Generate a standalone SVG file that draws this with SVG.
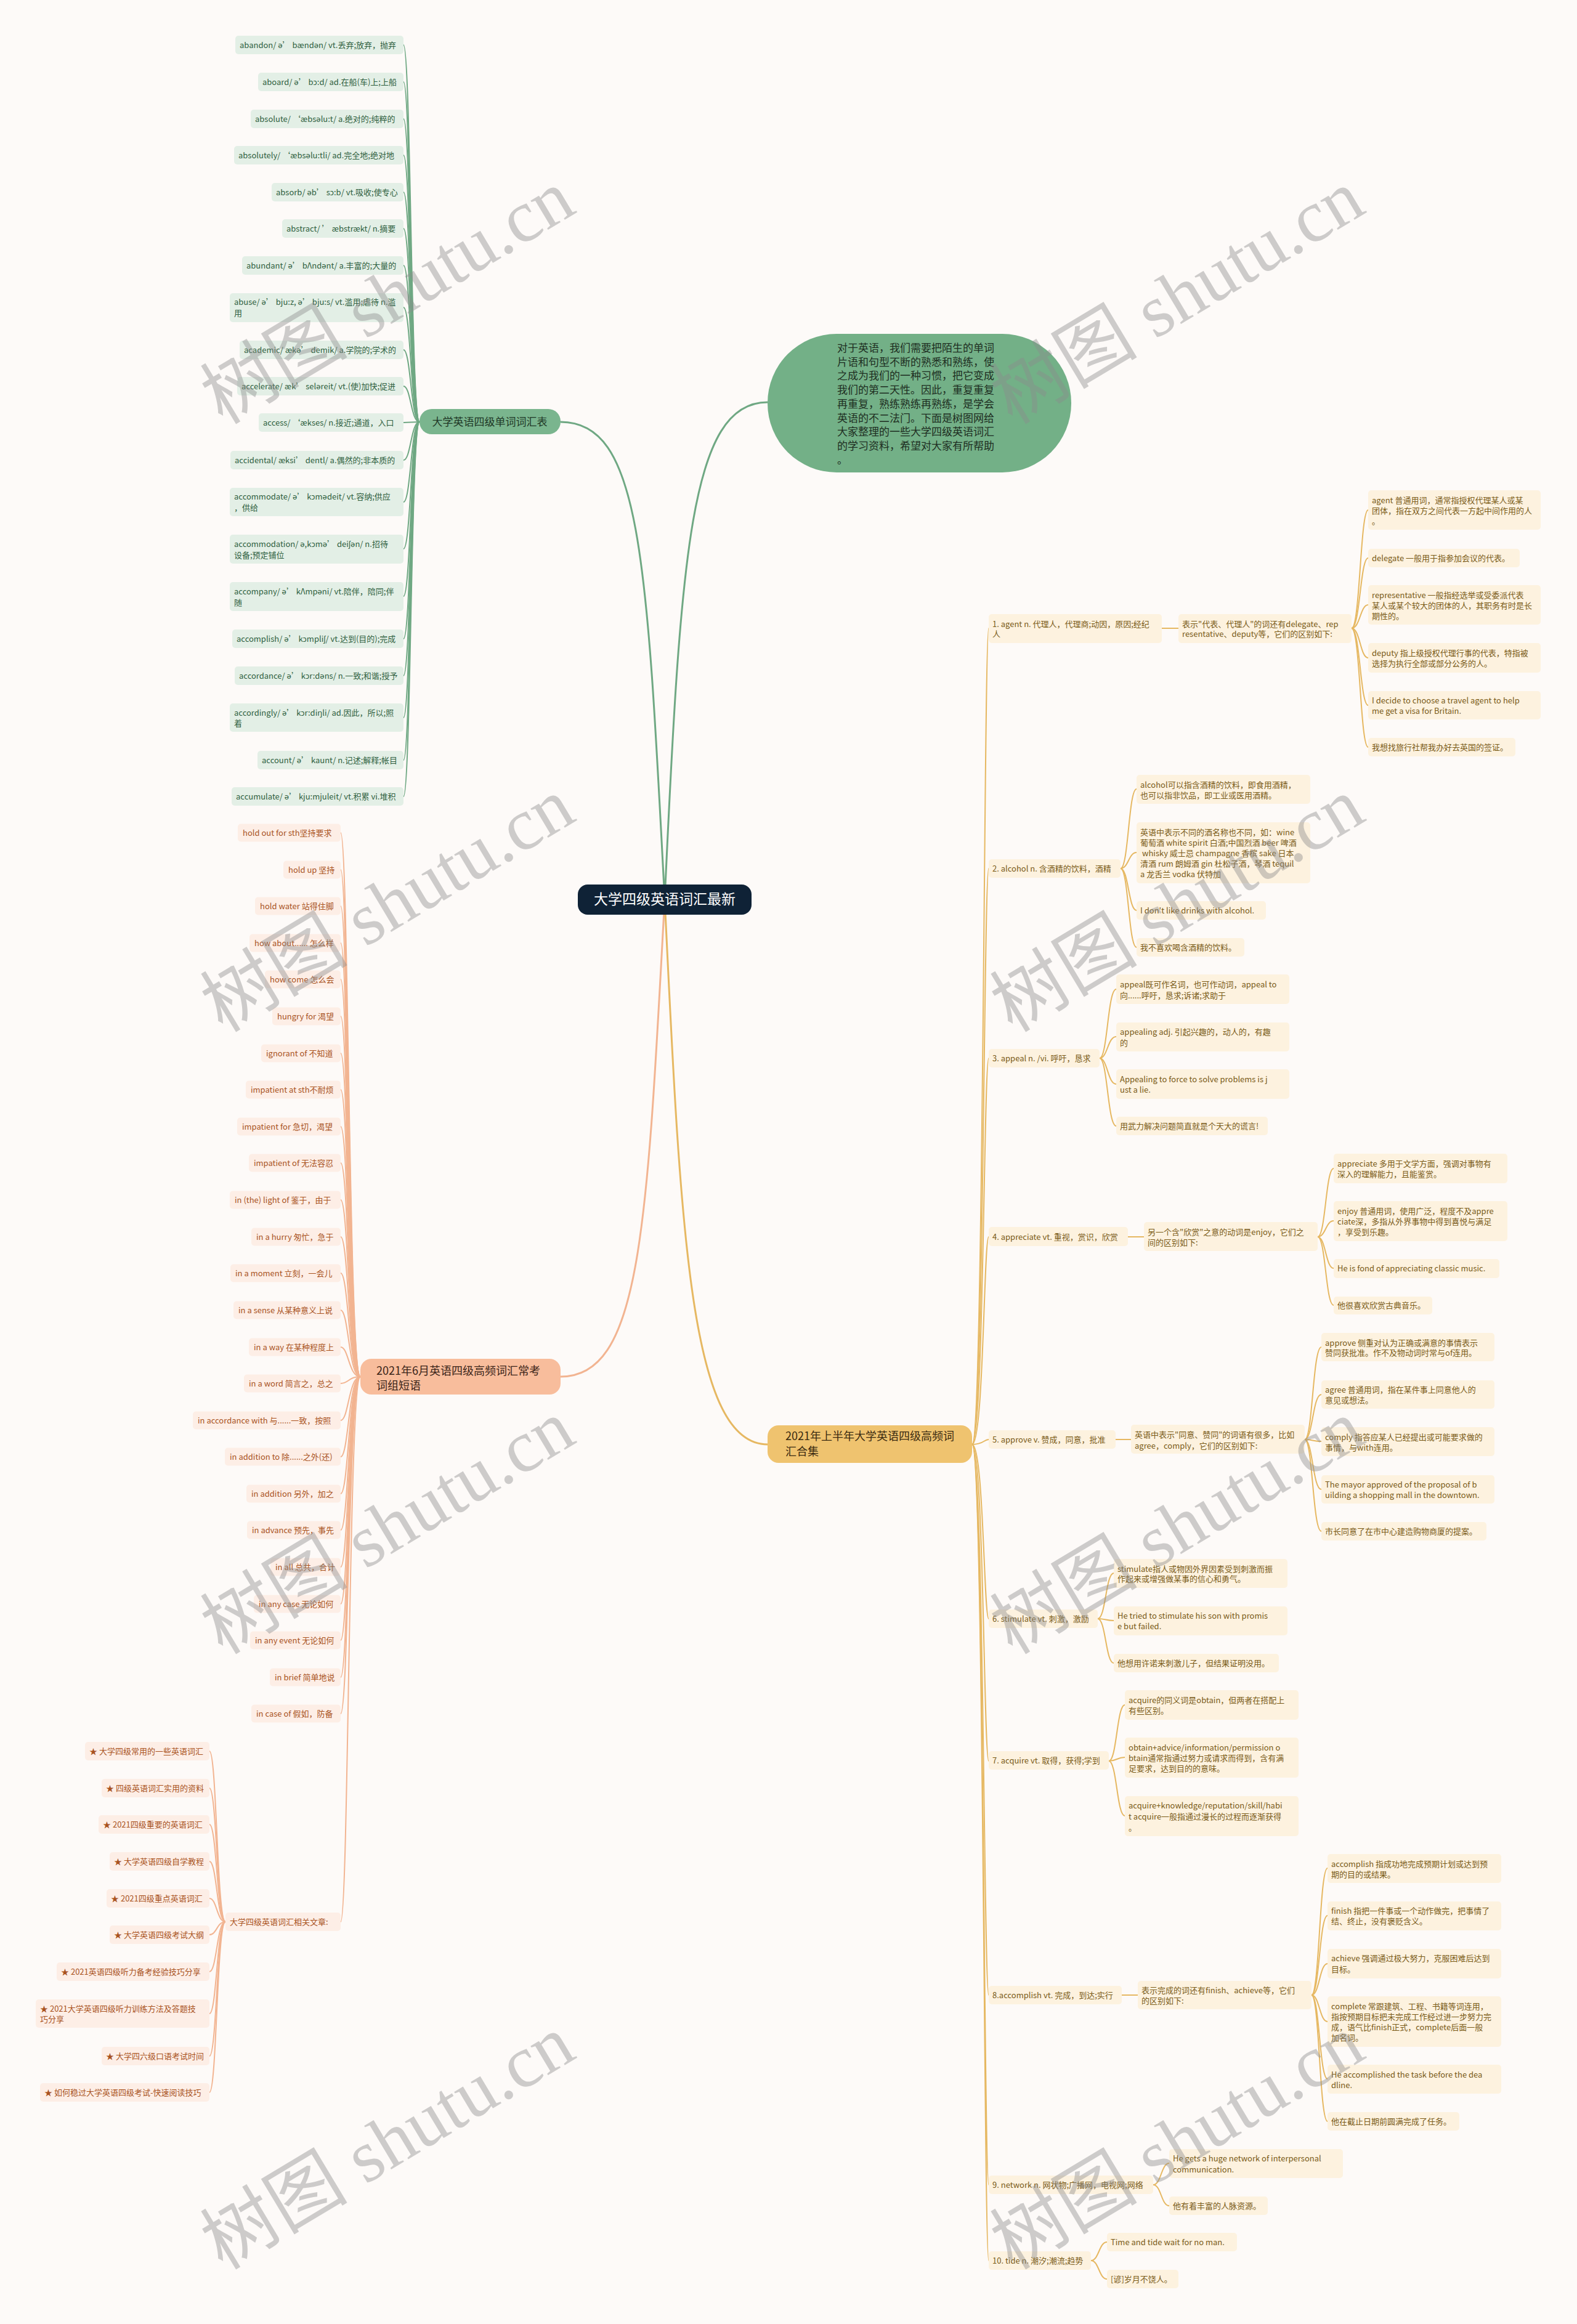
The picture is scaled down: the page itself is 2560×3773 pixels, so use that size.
<svg xmlns="http://www.w3.org/2000/svg" width="2560" height="3773" viewBox="0 0 2560 3773">
<style>
text{font-family:"Noto Sans CJK SC","Noto Sans",sans-serif;font-size:13px}
.tg{fill:#2f5f40}.ts{fill:#a9531e}.td{fill:#7a5b17}
.rg{fill:#e3efe6}.rs{fill:#fdeee6}.rd{fill:#fdf2df}
.c{fill:none;stroke-width:2}
.lg{stroke:#6fa883}.ls{stroke:#f2b491}.ld{stroke:#e6b862}
.m{stroke-width:3}
.wm{font-family:"Liberation Serif","Noto Sans CJK SC",serif;font-size:120px;fill:#8c8c8c;opacity:0.42}
</style>
<rect width="2560" height="3773" fill="#fdfaf8"/>
<g id="connectors">
<path class="c lg m" d="M1079 1460 C1105 900 1120 653 1246 653"/>
<path class="c lg m" d="M1079 1460 C1050 900 1040 685 910 685"/>
<path class="c ls m" d="M1079 1460 C1050 2000 1040 2235 910 2235"/>
<path class="c ld m" d="M1079 1460 C1105 2000 1120 2345 1246 2345"/>
<g class="c lg">
<path d="M681 685 C667 685 667 73 655 73"/><path d="M681 685 C667 685 667 133 655 133"/><path d="M681 685 C667 685 667 193 655 193"/><path d="M681 685 C667 685 667 252 655 252"/><path d="M681 685 C667 685 667 312 655 312"/><path d="M681 685 C667 685 667 371 655 371"/><path d="M681 685 C667 685 667 431 655 431"/><path d="M681 685 C667 685 667 499 655 499"/><path d="M681 685 C667 685 667 568 655 568"/><path d="M681 685 C667 685 667 627 655 627"/><path d="M681 685 C667 685 667 686 655 686"/><path d="M681 685 C667 685 667 747 655 747"/><path d="M681 685 C667 685 667 815 655 815"/><path d="M681 685 C667 685 667 891 655 891"/><path d="M681 685 C667 685 667 968 655 968"/><path d="M681 685 C667 685 667 1037 655 1037"/><path d="M681 685 C667 685 667 1097 655 1097"/><path d="M681 685 C667 685 667 1165 655 1165"/><path d="M681 685 C667 685 667 1234 655 1234"/><path d="M681 685 C667 685 667 1293 655 1293"/>
</g>
<g class="c ls">
<path d="M585 2235 C566 2235 566 1352 553 1352"/><path d="M585 2235 C566 2235 566 1412 553 1412"/><path d="M585 2235 C566 2235 566 1471 553 1471"/><path d="M585 2235 C566 2235 566 1531 553 1531"/><path d="M585 2235 C566 2235 566 1590 553 1590"/><path d="M585 2235 C566 2235 566 1650 553 1650"/><path d="M585 2235 C566 2235 566 1710 553 1710"/><path d="M585 2235 C566 2235 566 1769 553 1769"/><path d="M585 2235 C566 2235 566 1829 553 1829"/><path d="M585 2235 C566 2235 566 1888 553 1888"/><path d="M585 2235 C566 2235 566 1948 553 1948"/><path d="M585 2235 C566 2235 566 2008 553 2008"/><path d="M585 2235 C566 2235 566 2067 553 2067"/><path d="M585 2235 C566 2235 566 2127 553 2127"/><path d="M585 2235 C566 2235 566 2187 553 2187"/><path d="M585 2235 C566 2235 566 2246 553 2246"/><path d="M585 2235 C566 2235 566 2306 553 2306"/><path d="M585 2235 C566 2235 566 2365 553 2365"/><path d="M585 2235 C566 2235 566 2425 553 2425"/><path d="M585 2235 C566 2235 566 2484 553 2484"/><path d="M585 2235 C566 2235 566 2544 553 2544"/><path d="M585 2235 C566 2235 566 2604 553 2604"/><path d="M585 2235 C566 2235 566 2663 553 2663"/><path d="M585 2235 C566 2235 566 2723 553 2723"/><path d="M585 2235 C566 2235 566 2782 553 2782"/><path d="M585 2235 C566 2235 566 3120 553 3120"/>
<path d="M366 3120 C352 3120 352 2843 340 2843"/><path d="M366 3120 C352 3120 352 2903 340 2903"/><path d="M366 3120 C352 3120 352 2962 340 2962"/><path d="M366 3120 C352 3120 352 3022 340 3022"/><path d="M366 3120 C352 3120 352 3082 340 3082"/><path d="M366 3120 C352 3120 352 3141 340 3141"/><path d="M366 3120 C352 3120 352 3201 340 3201"/><path d="M366 3120 C352 3120 352 3269 340 3269"/><path d="M366 3120 C352 3120 352 3338 340 3338"/><path d="M366 3120 C352 3120 352 3397 340 3397"/>
</g>
<g class="c ld">
<path d="M1578 2345 C1597 2345 1597 1020 1605 1020"/><path d="M1578 2345 C1597 2345 1597 1410 1605 1410"/><path d="M1578 2345 C1597 2345 1597 1718 1605 1718"/><path d="M1578 2345 C1597 2345 1597 2008 1605 2008"/><path d="M1578 2345 C1597 2345 1597 2337 1605 2337"/><path d="M1578 2345 C1597 2345 1597 2628 1605 2628"/><path d="M1578 2345 C1597 2345 1597 2859 1605 2859"/><path d="M1578 2345 C1597 2345 1597 3239 1605 3239"/><path d="M1578 2345 C1597 2345 1597 3547 1605 3547"/><path d="M1578 2345 C1597 2345 1597 3670 1605 3670"/>
<path d="M1886 1020 L1913 1020"/>
<path d="M2194 1020 C2208 1020 2208 828 2221 828"/><path d="M2194 1020 C2208 1020 2208 906 2221 906"/><path d="M2194 1020 C2208 1020 2208 982 2221 982"/><path d="M2194 1020 C2208 1020 2208 1068 2221 1068"/><path d="M2194 1020 C2208 1020 2208 1145 2221 1145"/><path d="M2194 1020 C2208 1020 2208 1213 2221 1213"/>
<path d="M1819 1410 C1832 1410 1832 1281 1845 1281"/><path d="M1819 1410 C1832 1410 1832 1384 1845 1384"/><path d="M1819 1410 C1832 1410 1832 1478 1845 1478"/><path d="M1819 1410 C1832 1410 1832 1538 1845 1538"/>
<path d="M1785 1718 C1798 1718 1798 1606 1812 1606"/><path d="M1785 1718 C1798 1718 1798 1683 1812 1683"/><path d="M1785 1718 C1798 1718 1798 1760 1812 1760"/><path d="M1785 1718 C1798 1718 1798 1828 1812 1828"/>
<path d="M1831 2008 L1857 2008"/>
<path d="M2139 2008 C2152 2008 2152 1897 2165 1897"/><path d="M2139 2008 C2152 2008 2152 1982 2165 1982"/><path d="M2139 2008 C2152 2008 2152 2059 2165 2059"/><path d="M2139 2008 C2152 2008 2152 2119 2165 2119"/>
<path d="M1811 2337 L1836 2337"/>
<path d="M2118 2337 C2131 2337 2131 2187 2145 2187"/><path d="M2118 2337 C2131 2337 2131 2264 2145 2264"/><path d="M2118 2337 C2131 2337 2131 2340 2145 2340"/><path d="M2118 2337 C2131 2337 2131 2418 2145 2418"/><path d="M2118 2337 C2131 2337 2131 2486 2145 2486"/>
<path d="M1782 2628 C1795 2628 1795 2554 1808 2554"/><path d="M1782 2628 C1795 2628 1795 2631 1808 2631"/><path d="M1782 2628 C1795 2628 1795 2700 1808 2700"/>
<path d="M1800 2859 C1813 2859 1813 2768 1826 2768"/><path d="M1800 2859 C1813 2859 1813 2853 1826 2853"/><path d="M1800 2859 C1813 2859 1813 2948 1826 2948"/>
<path d="M1821 3239 L1847 3239"/>
<path d="M2129 3239 C2142 3239 2142 3033 2155 3033"/><path d="M2129 3239 C2142 3239 2142 3110 2155 3110"/><path d="M2129 3239 C2142 3239 2142 3188 2155 3188"/><path d="M2129 3239 C2142 3239 2142 3282 2155 3282"/><path d="M2129 3239 C2142 3239 2142 3375 2155 3375"/><path d="M2129 3239 C2142 3239 2142 3444 2155 3444"/>
<path d="M1872 3547 C1885 3547 1885 3512 1898 3512"/><path d="M1872 3547 C1885 3547 1885 3581 1898 3581"/>
<path d="M1771 3670 C1784 3670 1784 3640 1797 3640"/><path d="M1771 3670 C1784 3670 1784 3700 1797 3700"/>
</g>
</g>

<g id="main"><rect x="938" y="1436" width="282" height="49" rx="16" fill="#0f2236"/><text x="1079" y="1468" text-anchor="middle" style="font-size:23px;fill:#ffffff">大学四级英语词汇最新</text></g>

<g id="intro"><rect x="1246" y="542" width="493" height="225" rx="112" fill="#73b087"/>
<text style="font-size:17px;fill:#1e2e22"><tspan x="1359" y="571">对于英语，我们需要把陌生的单词</tspan><tspan x="1359" y="593.7">片语和句型不断的熟悉和熟练，使</tspan><tspan x="1359" y="616.4">之成为我们的一种习惯，把它变成</tspan><tspan x="1359" y="639.1">我们的第二天性。因此，重复重复</tspan><tspan x="1359" y="661.8">再重复，熟练熟练再熟练，是学会</tspan><tspan x="1359" y="684.5">英语的不二法门。下面是树图网给</tspan><tspan x="1359" y="707.2">大家整理的一些大学四级英语词汇</tspan><tspan x="1359" y="729.9">的学习资料，希望对大家有所帮助</tspan><tspan x="1359" y="752.6">。</tspan></text></g>

<g id="branch-vocab"><rect x="681" y="664" width="229" height="41" rx="20" fill="#7ab58e"/><text x="795" y="691" text-anchor="middle" style="font-size:17px;fill:#1f3826">大学英语四级单词词汇表</text></g>
<g id="branch-phrase"><rect x="585" y="2206" width="325" height="58" rx="18" fill="#f8bd9c"/><text style="font-size:18px;fill:#3a2418"><tspan x="611" y="2232">2021年6月英语四级高频词汇常考</tspan><tspan x="611" y="2256">词组短语</tspan></text></g>
<g id="branch-2021"><rect x="1246" y="2314" width="332" height="61" rx="18" fill="#efc36f"/><text style="font-size:18px;fill:#3a2a10"><tspan x="1275" y="2338">2021年上半年大学英语四级高频词</tspan><tspan x="1275" y="2363">汇合集</tspan></text></g>

<g id="vocab-words">
<g id="w1"><rect class="rg" x="382" y="58" width="273" height="30" rx="5"/><text class="tg" x="389" y="77.5">abandon/ ə’ bændən/ vt.丢弃;放弃，抛弃</text></g>
<g id="w2"><rect class="rg" x="419" y="118" width="236" height="30" rx="5"/><text class="tg" x="426" y="137.5">aboard/ ə’ bɔ:d/ ad.在船(车)上;上船</text></g>
<g id="w3"><rect class="rg" x="407" y="178" width="248" height="30" rx="5"/><text class="tg" x="414" y="197.5">absolute/ ‘æbsəlu:t/ a.绝对的;纯粹的</text></g>
<g id="w4"><rect class="rg" x="380" y="237" width="275" height="30" rx="5"/><text class="tg" x="387" y="256.5">absolutely/ ‘æbsəlu:tli/ ad.完全地;绝对地</text></g>
<g id="w5"><rect class="rg" x="441" y="297" width="214" height="30" rx="5"/><text class="tg" x="448" y="316.5">absorb/ əb’ sɔ:b/ vt.吸收;使专心</text></g>
<g id="w6"><rect class="rg" x="458" y="356" width="197" height="30" rx="5"/><text class="tg" x="465" y="375.5">abstract/ ’ æbstrækt/ n.摘要</text></g>
<g id="w7"><rect class="rg" x="393" y="416" width="262" height="30" rx="5"/><text class="tg" x="400" y="435.5">abundant/ ə’ bΛndənt/ a.丰富的;大量的</text></g>
<g id="w8"><rect class="rg" x="373" y="476" width="282" height="47" rx="5"/><text class="tg"><tspan x="380" y="494.5">abuse/ ə’ bju:z, ə’ bju:s/ vt.滥用;虐待 n.滥</tspan><tspan x="380" y="512.5">用</tspan></text></g>
<g id="w9"><rect class="rg" x="389" y="553" width="266" height="30" rx="5"/><text class="tg" x="396" y="572.5">academic/ ækə’ demik/ a.学院的;学术的</text></g>
<g id="w10"><rect class="rg" x="385" y="612" width="270" height="30" rx="5"/><text class="tg" x="392" y="631.5">accelerate/ æk’ seləreit/ vt.(使)加快;促进</text></g>
<g id="w11"><rect class="rg" x="420" y="671" width="235" height="30" rx="5"/><text class="tg" x="427" y="690.5">access/ ‘ækses/ n.接近;通道，入口</text></g>
<g id="w12"><rect class="rg" x="374" y="732" width="281" height="30" rx="5"/><text class="tg" x="381" y="751.5">accidental/ æksi’ dentl/ a.偶然的;非本质的</text></g>
<g id="w13"><rect class="rg" x="373" y="792" width="282" height="46" rx="5"/><text class="tg"><tspan x="380" y="810.5">accommodate/ ə’ kɔmədeit/ vt.容纳;供应</tspan><tspan x="380" y="828.5">，供给</tspan></text></g>
<g id="w14"><rect class="rg" x="373" y="868" width="282" height="47" rx="5"/><text class="tg"><tspan x="380" y="887.5">accommodation/ ə,kɔmə’ deiʃən/ n.招待</tspan><tspan x="380" y="905.5">设备;预定铺位</tspan></text></g>
<g id="w15"><rect class="rg" x="373" y="945" width="282" height="47" rx="5"/><text class="tg"><tspan x="380" y="964.5">accompany/ ə’ kΛmpəni/ vt.陪伴，陪同;伴</tspan><tspan x="380" y="982.5">随</tspan></text></g>
<g id="w16"><rect class="rg" x="377" y="1022" width="278" height="30" rx="5"/><text class="tg" x="384" y="1041.5">accomplish/ ə’ kɔmpliʃ/ vt.达到(目的);完成</text></g>
<g id="w17"><rect class="rg" x="381" y="1082" width="274" height="30" rx="5"/><text class="tg" x="388" y="1101.5">accordance/ ə’ kɔr:dəns/ n.一致;和谐;授予</text></g>
<g id="w18"><rect class="rg" x="373" y="1142" width="282" height="46" rx="5"/><text class="tg"><tspan x="380" y="1161.5">accordingly/ ə’ kɔr:diŋli/ ad.因此，所以;照</tspan><tspan x="380" y="1179">着</tspan></text></g>
<g id="w19"><rect class="rg" x="418" y="1219" width="237" height="30" rx="5"/><text class="tg" x="425" y="1238.5">account/ ə’ kaunt/ n.记述;解释;帐目</text></g>
<g id="w20"><rect class="rg" x="376" y="1278" width="279" height="30" rx="5"/><text class="tg" x="383" y="1297.5">accumulate/ ə’ kju:mjuleit/ vt.积累 vi.堆积</text></g>
</g>

<g id="phrases">
<g id="p1"><rect class="rs" x="386" y="1337.5" width="167" height="29" rx="5"/><text class="ts" x="394" y="1356.5">hold out for sth坚持要求</text></g>
<g id="p2"><rect class="rs" x="460" y="1397.5" width="93" height="29" rx="5"/><text class="ts" x="468" y="1416.5">hold up 坚持</text></g>
<g id="p3"><rect class="rs" x="414" y="1456.5" width="139" height="29" rx="5"/><text class="ts" x="422" y="1475.5">hold water 站得住脚</text></g>
<g id="p4"><rect class="rs" x="405" y="1516.5" width="148" height="29" rx="5"/><text class="ts" x="413" y="1535.5">how about...... 怎么样</text></g>
<g id="p5"><rect class="rs" x="430" y="1575.5" width="123" height="29" rx="5"/><text class="ts" x="438" y="1594.5">how come 怎么会</text></g>
<g id="p6"><rect class="rs" x="442" y="1635.5" width="111" height="29" rx="5"/><text class="ts" x="450" y="1654.5">hungry for 渴望</text></g>
<g id="p7"><rect class="rs" x="424" y="1695.5" width="129" height="29" rx="5"/><text class="ts" x="432" y="1714.5">ignorant of 不知道</text></g>
<g id="p8"><rect class="rs" x="399" y="1754.5" width="154" height="29" rx="5"/><text class="ts" x="407" y="1773.5">impatient at sth不耐烦</text></g>
<g id="p9"><rect class="rs" x="385" y="1814.5" width="168" height="29" rx="5"/><text class="ts" x="393" y="1833.5">impatient for 急切，渴望</text></g>
<g id="p10"><rect class="rs" x="404" y="1873.5" width="149" height="29" rx="5"/><text class="ts" x="412" y="1892.5">impatient of 无法容忍</text></g>
<g id="p11"><rect class="rs" x="373" y="1933.5" width="180" height="29" rx="5"/><text class="ts" x="381" y="1952.5">in (the) light of 鉴于，由于</text></g>
<g id="p12"><rect class="rs" x="408" y="1993.5" width="145" height="29" rx="5"/><text class="ts" x="416" y="2012.5">in a hurry 匆忙，急于</text></g>
<g id="p13"><rect class="rs" x="374" y="2052.5" width="179" height="29" rx="5"/><text class="ts" x="382" y="2071.5">in a moment 立刻，一会儿</text></g>
<g id="p14"><rect class="rs" x="379" y="2112.5" width="174" height="29" rx="5"/><text class="ts" x="387" y="2131.5">in a sense 从某种意义上说</text></g>
<g id="p15"><rect class="rs" x="404" y="2172.5" width="149" height="29" rx="5"/><text class="ts" x="412" y="2191.5">in a way 在某种程度上</text></g>
<g id="p16"><rect class="rs" x="396" y="2231.5" width="157" height="29" rx="5"/><text class="ts" x="404" y="2250.5">in a word 简言之，总之</text></g>
<g id="p17"><rect class="rs" x="313" y="2291.5" width="240" height="29" rx="5"/><text class="ts" x="321" y="2310.5">in accordance with 与......一致，按照</text></g>
<g id="p18"><rect class="rs" x="365" y="2350.5" width="188" height="29" rx="5"/><text class="ts" x="373" y="2369.5">in addition to 除......之外(还)</text></g>
<g id="p19"><rect class="rs" x="400" y="2410.5" width="153" height="29" rx="5"/><text class="ts" x="408" y="2429.5">in addition 另外，加之</text></g>
<g id="p20"><rect class="rs" x="401" y="2469.5" width="152" height="29" rx="5"/><text class="ts" x="409" y="2488.5">in advance 预先，事先</text></g>
<g id="p21"><rect class="rs" x="439" y="2529.5" width="114" height="29" rx="5"/><text class="ts" x="447" y="2548.5">in all 总共，合计</text></g>
<g id="p22"><rect class="rs" x="412" y="2589.5" width="141" height="29" rx="5"/><text class="ts" x="420" y="2608.5">in any case 无论如何</text></g>
<g id="p23"><rect class="rs" x="406" y="2648.5" width="147" height="29" rx="5"/><text class="ts" x="414" y="2667.5">in any event 无论如何</text></g>
<g id="p24"><rect class="rs" x="438" y="2708.5" width="115" height="29" rx="5"/><text class="ts" x="446" y="2727.5">in brief 简单地说</text></g>
<g id="p25"><rect class="rs" x="408" y="2767.5" width="145" height="29" rx="5"/><text class="ts" x="416" y="2786.5">in case of 假如，防备</text></g>
<g id="related"><rect class="rs" x="366" y="3105" width="187" height="30" rx="5"/><text class="ts" x="373" y="3124.5">大学四级英语词汇相关文章:</text></g>
<g id="r1"><rect class="rs" x="138" y="2828" width="202" height="30" rx="5"/><text class="ts" x="145" y="2847.5">★ 大学四级常用的一些英语词汇</text></g>
<g id="r2"><rect class="rs" x="165" y="2888" width="175" height="30" rx="5"/><text class="ts" x="172" y="2907.5">★ 四级英语词汇实用的资料</text></g>
<g id="r3"><rect class="rs" x="160" y="2947" width="180" height="30" rx="5"/><text class="ts" x="167" y="2966.5">★ 2021四级重要的英语词汇</text></g>
<g id="r4"><rect class="rs" x="178" y="3007" width="162" height="30" rx="5"/><text class="ts" x="185" y="3026.5">★ 大学英语四级自学教程</text></g>
<g id="r5"><rect class="rs" x="173" y="3067" width="167" height="30" rx="5"/><text class="ts" x="180" y="3086.5">★ 2021四级重点英语词汇</text></g>
<g id="r6"><rect class="rs" x="178" y="3126" width="162" height="30" rx="5"/><text class="ts" x="185" y="3145.5">★ 大学英语四级考试大纲</text></g>
<g id="r7"><rect class="rs" x="92" y="3186" width="248" height="30" rx="5"/><text class="ts" x="99" y="3205.5">★ 2021英语四级听力备考经验技巧分享</text></g>
<g id="r8"><rect class="rs" x="58" y="3246" width="282" height="46" rx="5"/><text class="ts"><tspan x="65" y="3265.5">★ 2021大学英语四级听力训练方法及答题技</tspan><tspan x="65" y="3282.5">巧分享</tspan></text></g>
<g id="r9"><rect class="rs" x="165" y="3323" width="175" height="30" rx="5"/><text class="ts" x="172" y="3342.5">★ 大学四六级口语考试时间</text></g>
<g id="r10"><rect class="rs" x="65" y="3382" width="275" height="30" rx="5"/><text class="ts" x="72" y="3401.5">★ 如何稳过大学英语四级考试-快速阅读技巧</text></g>
</g>

<g id="words2021">
<g id="i1"><rect class="rd" x="1605" y="997" width="281" height="47" rx="5"/><text class="td"><tspan x="1611" y="1017.5">1. agent n. 代理人，代理商;动因，原因;经纪</tspan><tspan x="1611" y="1034">人</tspan></text></g>
<g id="s1"><rect class="rd" x="1913" y="997" width="281" height="47" rx="5"/><text class="td"><tspan x="1919" y="1017.5">表示"代表、代理人"的词还有delegate、rep</tspan><tspan x="1919" y="1034">resentative、deputy等，它们的区别如下:</tspan></text></g>
<g id="s1a"><rect class="rd" x="2221" y="796" width="280" height="64" rx="5"/><text class="td"><tspan x="2227" y="817">agent 普通用词，通常指授权代理某人或某</tspan><tspan x="2227" y="834">团体，指在双方之间代表一方起中间作用的人</tspan><tspan x="2227" y="851">。</tspan></text></g>
<g id="s1b"><rect class="rd" x="2221" y="891" width="246" height="30" rx="5"/><text class="td" x="2227" y="910.5">delegate 一般用于指参加会议的代表。</text></g>
<g id="s1c"><rect class="rd" x="2221" y="950" width="280" height="64" rx="5"/><text class="td"><tspan x="2227" y="970.5">representative 一般指经选举或受委派代表</tspan><tspan x="2227" y="987.5">某人或某个较大的团体的人，其职务有时是长</tspan><tspan x="2227" y="1004.5">期性的。</tspan></text></g>
<g id="s1d"><rect class="rd" x="2221" y="1044" width="280" height="48" rx="5"/><text class="td"><tspan x="2227" y="1064.5">deputy 指上级授权代理行事的代表，特指被</tspan><tspan x="2227" y="1081.5">选择为执行全部或部分公务的人。</tspan></text></g>
<g id="s1e"><rect class="rd" x="2221" y="1122" width="280" height="46" rx="5"/><text class="td"><tspan x="2227" y="1141.5">I decide to choose a travel agent to help</tspan><tspan x="2227" y="1158.5">me get a visa for Britain.</tspan></text></g>
<g id="s1f"><rect class="rd" x="2221" y="1198" width="239" height="30" rx="5"/><text class="td" x="2227" y="1217.5">我想找旅行社帮我办好去英国的签证。</text></g>

<g id="i2"><rect class="rd" x="1605" y="1395" width="214" height="30" rx="5"/><text class="td" x="1611" y="1414.5">2. alcohol n. 含酒精的饮料，酒精</text></g>
<g id="i2a"><rect class="rd" x="1845" y="1258" width="282" height="47" rx="5"/><text class="td"><tspan x="1851" y="1278.5">alcohol可以指含酒精的饮料，即食用酒精，</tspan><tspan x="1851" y="1295.5">也可以指非饮品，即工业或医用酒精。</tspan></text></g>
<g id="i2b"><rect class="rd" x="1845" y="1335" width="282" height="99" rx="5"/><text class="td"><tspan x="1851" y="1355.5">英语中表示不同的酒名称也不同，如：wine</tspan><tspan x="1851" y="1372.5">葡萄酒 white spirit 白酒;中国烈酒 beer 啤酒</tspan><tspan x="1854" y="1389.5">whisky 威士忌 champagne 香槟 sake 日本</tspan><tspan x="1851" y="1406.5">清酒 rum 朗姆酒 gin 杜松子酒，琴酒 tequil</tspan><tspan x="1851" y="1423.5">a 龙舌兰 vodka 伏特加</tspan></text></g>
<g id="i2c"><rect class="rd" x="1845" y="1463" width="210" height="30" rx="5"/><text class="td" x="1851" y="1482.5">I don't like drinks with alcohol.</text></g>
<g id="i2d"><rect class="rd" x="1845" y="1523" width="175" height="30" rx="5"/><text class="td" x="1851" y="1542.5">我不喜欢喝含酒精的饮料。</text></g>

<g id="i3"><rect class="rd" x="1605" y="1703" width="180" height="30" rx="5"/><text class="td" x="1611" y="1722.5">3. appeal n. /vi. 呼吁，恳求</text></g>
<g id="i3a"><rect class="rd" x="1812" y="1582" width="281" height="48" rx="5"/><text class="td"><tspan x="1818" y="1602.5">appeal既可作名词，也可作动词，appeal to</tspan><tspan x="1818" y="1620.5">向......呼吁，恳求;诉诸;求助于</tspan></text></g>
<g id="i3b"><rect class="rd" x="1812" y="1660" width="281" height="47" rx="5"/><text class="td"><tspan x="1818" y="1679.5">appealing adj. 引起兴趣的，动人的，有趣</tspan><tspan x="1818" y="1697.5">的</tspan></text></g>
<g id="i3c"><rect class="rd" x="1812" y="1736" width="281" height="48" rx="5"/><text class="td"><tspan x="1818" y="1756.5">Appealing to force to solve problems is j</tspan><tspan x="1818" y="1773.5">ust a lie.</tspan></text></g>
<g id="i3d"><rect class="rd" x="1812" y="1813" width="246" height="30" rx="5"/><text class="td" x="1818" y="1832.5">用武力解决问题简直就是个天大的谎言!</text></g>

<g id="i4"><rect class="rd" x="1605" y="1992" width="226" height="31" rx="5"/><text class="td" x="1611" y="2012.5">4. appreciate vt. 重视，赏识，欣赏</text></g>
<g id="s4"><rect class="rd" x="1857" y="1984" width="282" height="47" rx="5"/><text class="td"><tspan x="1863" y="2004.5">另一个含"欣赏"之意的动词是enjoy，它们之</tspan><tspan x="1863" y="2021.5">间的区别如下:</tspan></text></g>
<g id="s4a"><rect class="rd" x="2165" y="1873" width="282" height="48" rx="5"/><text class="td"><tspan x="2171" y="1893.5">appreciate 多用于文学方面，强调对事物有</tspan><tspan x="2171" y="1910.5">深入的理解能力，且能鉴赏。</tspan></text></g>
<g id="s4b"><rect class="rd" x="2165" y="1950" width="282" height="65" rx="5"/><text class="td"><tspan x="2171" y="1970.5">enjoy 普通用词，使用广泛，程度不及appre</tspan><tspan x="2171" y="1987.5">ciate深，多指从外界事物中得到喜悦与满足</tspan><tspan x="2171" y="2004.5">，享受到乐趣。</tspan></text></g>
<g id="s4c"><rect class="rd" x="2165" y="2044" width="269" height="31" rx="5"/><text class="td" x="2171" y="2064">He is fond of appreciating classic music.</text></g>
<g id="s4d"><rect class="rd" x="2165" y="2105" width="160" height="29" rx="5"/><text class="td" x="2171" y="2123.5">他很喜欢欣赏古典音乐。</text></g>

<g id="i5"><rect class="rd" x="1605" y="2322" width="206" height="30" rx="5"/><text class="td" x="1611" y="2341.5">5. approve v. 赞成，同意，批准</text></g>
<g id="s5"><rect class="rd" x="1836" y="2313" width="282" height="47" rx="5"/><text class="td"><tspan x="1842" y="2333.5">英语中表示"同意、赞同"的词语有很多，比如</tspan><tspan x="1842" y="2351.5">agree，comply，它们的区别如下:</tspan></text></g>
<g id="s5a"><rect class="rd" x="2145" y="2164" width="281" height="46" rx="5"/><text class="td"><tspan x="2151" y="2184.5">approve 侧重对认为正确或满意的事情表示</tspan><tspan x="2151" y="2200.5">赞同获批准。作不及物动词时常与of连用。</tspan></text></g>
<g id="s5b"><rect class="rd" x="2145" y="2241" width="281" height="46" rx="5"/><text class="td"><tspan x="2151" y="2260.5">agree 普通用词，指在某件事上同意他人的</tspan><tspan x="2151" y="2277.5">意见或想法。</tspan></text></g>
<g id="s5c"><rect class="rd" x="2145" y="2317" width="281" height="47" rx="5"/><text class="td"><tspan x="2151" y="2337.5">comply 指答应某人已经提出或可能要求做的</tspan><tspan x="2151" y="2354.5">事情，与with连用。</tspan></text></g>
<g id="s5d"><rect class="rd" x="2145" y="2395" width="281" height="46" rx="5"/><text class="td"><tspan x="2151" y="2414.5">The mayor approved of the proposal of b</tspan><tspan x="2151" y="2431.5">uilding a shopping mall in the downtown.</tspan></text></g>
<g id="s5e"><rect class="rd" x="2145" y="2471" width="268" height="30" rx="5"/><text class="td" x="2151" y="2490.5">市长同意了在市中心建造购物商厦的提案。</text></g>

<g id="i6"><rect class="rd" x="1605" y="2613" width="177" height="30" rx="5"/><text class="td" x="1611" y="2632.5">6. stimulate vt. 刺激，激励</text></g>
<g id="i6a"><rect class="rd" x="1808" y="2531" width="282" height="47" rx="5"/><text class="td"><tspan x="1814" y="2551.5">stimulate指人或物因外界因素受到刺激而振</tspan><tspan x="1814" y="2567.5">作起来或增强做某事的信心和勇气。</tspan></text></g>
<g id="i6b"><rect class="rd" x="1808" y="2608" width="282" height="47" rx="5"/><text class="td"><tspan x="1814" y="2627.5">He tried to stimulate his son with promis</tspan><tspan x="1814" y="2644.5">e but failed.</tspan></text></g>
<g id="i6c"><rect class="rd" x="1808" y="2685" width="268" height="30" rx="5"/><text class="td" x="1814" y="2705">他想用许诺来刺激儿子，但结果证明没用。</text></g>

<g id="i7"><rect class="rd" x="1605" y="2843" width="195" height="30" rx="5"/><text class="td" x="1611" y="2863">7. acquire vt. 取得，获得;学到</text></g>
<g id="i7a"><rect class="rd" x="1826" y="2744" width="282" height="48" rx="5"/><text class="td"><tspan x="1832" y="2764.5">acquire的同义词是obtain，但两者在搭配上</tspan><tspan x="1832" y="2781.5">有些区别。</tspan></text></g>
<g id="i7b"><rect class="rd" x="1826" y="2821" width="282" height="65" rx="5"/><text class="td"><tspan x="1832" y="2841.5">obtain+advice/information/permission o</tspan><tspan x="1832" y="2858.5">btain通常指通过努力或请求而得到，含有满</tspan><tspan x="1832" y="2875.5">足要求，达到目的的意味。</tspan></text></g>
<g id="i7c"><rect class="rd" x="1826" y="2916" width="282" height="65" rx="5"/><text class="td"><tspan x="1832" y="2935.5">acquire+knowledge/reputation/skill/habi</tspan><tspan x="1832" y="2953.5">t acquire一般指通过漫长的过程而逐渐获得</tspan><tspan x="1832" y="2971.5">。</tspan></text></g>

<g id="i8"><rect class="rd" x="1605" y="3224" width="216" height="30" rx="5"/><text class="td" x="1611" y="3243.5">8.accomplish vt. 完成，到达;实行</text></g>
<g id="s8"><rect class="rd" x="1847" y="3216" width="282" height="46" rx="5"/><text class="td"><tspan x="1853" y="3235.5">表示完成的词还有finish、achieve等，它们</tspan><tspan x="1853" y="3252.5">的区别如下:</tspan></text></g>
<g id="s8a"><rect class="rd" x="2155" y="3010" width="282" height="47" rx="5"/><text class="td"><tspan x="2161" y="3030.5">accomplish 指成功地完成预期计划或达到预</tspan><tspan x="2161" y="3047.5">期的目的或结果。</tspan></text></g>
<g id="s8b"><rect class="rd" x="2155" y="3087" width="282" height="47" rx="5"/><text class="td"><tspan x="2161" y="3106.5">finish 指把一件事或一个动作做完，把事情了</tspan><tspan x="2161" y="3123.5">结、终止，没有褒贬含义。</tspan></text></g>
<g id="s8c"><rect class="rd" x="2155" y="3164" width="282" height="48" rx="5"/><text class="td"><tspan x="2161" y="3183.5">achieve 强调通过极大努力，克服困难后达到</tspan><tspan x="2161" y="3201.5">目标。</tspan></text></g>
<g id="s8d"><rect class="rd" x="2155" y="3241" width="282" height="82" rx="5"/><text class="td"><tspan x="2161" y="3261.5">complete 常跟建筑、工程、书籍等词连用，</tspan><tspan x="2161" y="3278.5">指按预期目标把未完成工作经过进一步努力完</tspan><tspan x="2161" y="3295.5">成，语气比finish正式，complete后面一般</tspan><tspan x="2161" y="3312.5">加名词。</tspan></text></g>
<g id="s8e"><rect class="rd" x="2155" y="3352" width="282" height="47" rx="5"/><text class="td"><tspan x="2161" y="3372.5">He accomplished the task before the dea</tspan><tspan x="2161" y="3389.5">dline.</tspan></text></g>
<g id="s8f"><rect class="rd" x="2155" y="3429" width="214" height="30" rx="5"/><text class="td" x="2161" y="3448.5">他在截止日期前圆满完成了任务。</text></g>

<g id="i9"><rect class="rd" x="1605" y="3532" width="267" height="30" rx="5"/><text class="td" x="1611" y="3551.5">9. network n. 网状物;广播网，电视网;网络</text></g>
<g id="i9a"><rect class="rd" x="1898" y="3489" width="282" height="47" rx="5"/><text class="td"><tspan x="1904" y="3508.5">He gets a huge network of interpersonal</tspan><tspan x="1904" y="3526.5">communication.</tspan></text></g>
<g id="i9b"><rect class="rd" x="1898" y="3566" width="160" height="30" rx="5"/><text class="td" x="1904" y="3585.5">他有着丰富的人脉资源。</text></g>

<g id="i10"><rect class="rd" x="1605" y="3655" width="166" height="30" rx="5"/><text class="td" x="1611" y="3674.5">10. tide n. 潮汐;潮流;趋势</text></g>
<g id="i10a"><rect class="rd" x="1797" y="3625" width="211" height="30" rx="5"/><text class="td" x="1803" y="3644.5">Time and tide wait for no man.</text></g>
<g id="i10b"><rect class="rd" x="1797" y="3685" width="116" height="30" rx="5"/><text class="td" x="1803" y="3704.5">[谚]岁月不饶人。</text></g>
</g>

<g id="watermarks">
<text class="wm" text-anchor="middle" transform="translate(650 517) rotate(-31)">树图 shutu.cn</text>
<text class="wm" text-anchor="middle" transform="translate(1932 517) rotate(-31)">树图 shutu.cn</text>
<text class="wm" text-anchor="middle" transform="translate(650 1504) rotate(-31)">树图 shutu.cn</text>
<text class="wm" text-anchor="middle" transform="translate(1932 1504) rotate(-31)">树图 shutu.cn</text>
<text class="wm" text-anchor="middle" transform="translate(650 2514) rotate(-31)">树图 shutu.cn</text>
<text class="wm" text-anchor="middle" transform="translate(1932 2514) rotate(-31)">树图 shutu.cn</text>
<text class="wm" text-anchor="middle" transform="translate(650 3513) rotate(-31)">树图 shutu.cn</text>
<text class="wm" text-anchor="middle" transform="translate(1932 3513) rotate(-31)">树图 shutu.cn</text>
</g>
</svg>
